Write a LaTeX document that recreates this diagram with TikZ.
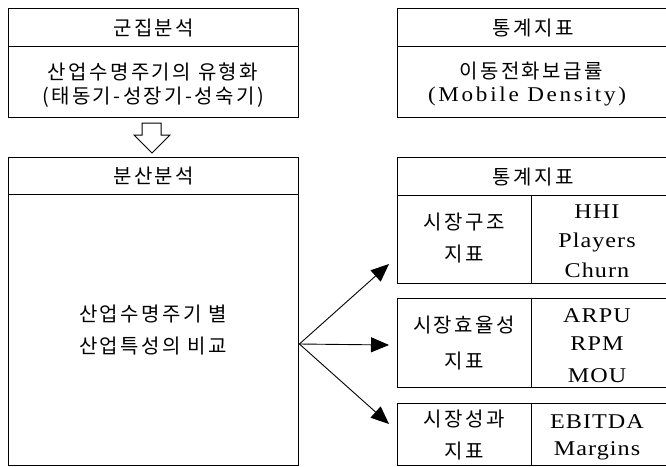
\documentclass[tikz,border=0pt]{standalone}
\usepackage{fontspec}
\setmainfont{Liberation Serif}[FakeStretch=1.15, LetterSpace=5]
\newfontfamily\wide{Liberation Serif}[FakeStretch=1.1, LetterSpace=13]
\newfontfamily\kr{Noto Sans CJK KR}[LetterSpace=12]
\usetikzlibrary{arrows.meta}
\begin{document}
\begin{tikzpicture}[x=1pt,y=-1pt,
  box/.style={draw, line width=1.4pt, inner sep=0pt, anchor=north west},
  kt/.style={font=\kr\fontsize{20}{24}\selectfont, inner sep=0pt},
  lt/.style={font=\fontsize{21}{25}\selectfont, inner sep=0pt},
  conn/.style={-{Triangle[length=18pt,width=15pt]}, line width=0.9pt}]
\useasboundingbox (0,0) rectangle (666,466);

% top left
\node[box, minimum width=290pt, minimum height=38pt, kt] (h1) at (8,8) {군집분석};
\node[box, minimum width=290pt, minimum height=71pt] (b1) at (8,46) {};
\node[kt] (b1a) at (153,72) {산업수명주기의 유형화};
\node[kt] (b1b) at (153,97) {(태동기-성장기-성숙기)};

% top right
\node[box, minimum width=271pt, minimum height=38pt, kt] (h2) at (397,8) {통계지표};
\node[box, minimum width=271pt, minimum height=71pt] (b2) at (397,46) {};
\node[kt] (b2a) at (531,71) {이동전화보급률};
\node[lt, font=\wide\fontsize{21}{25}\selectfont] (b2b) at (527,96) {(Mobile Density)};

% block arrow
\draw[line width=1pt, fill=white] (142,123) -- (161,123) -- (161,135) -- (170,135)
  -- (152,153) -- (134,135) -- (142,135) -- cycle;

% lower left
\node[box, minimum width=290pt, minimum height=37pt, kt] (h3) at (8,157) {분산분석};
\node[box, minimum width=290pt, minimum height=271pt] (b3) at (8,194) {};
\node[kt] (b3a) at (153,314) {산업수명주기 별};
\node[kt] (b3b) at (153,346) {산업특성의 비교};

% lower right header
\node[box, minimum width=271pt, minimum height=38pt, kt] (h4) at (397,157) {통계지표};

% market structure
\node[box, minimum width=134pt, minimum height=88pt] (s1) at (397,195) {};
\node[box, minimum width=137pt, minimum height=88pt] (s2) at (531,195) {};
\node[kt] (s1a) at (464,222) {시장구조};
\node[kt] (s1b) at (464,254) {지표};
\node[lt, anchor=base] (s2a) at (597,218) {HHI};
\node[lt, anchor=base] (s2b) at (597,247) {Players};
\node[lt, anchor=base] (s2c) at (597,277) {Churn};

% market efficiency
\node[box, minimum width=134pt, minimum height=89pt] (e1) at (397,298) {};
\node[box, minimum width=137pt, minimum height=89pt] (e2) at (531,298) {};
\node[kt] (e1a) at (464,325) {시장효율성};
\node[kt] (e1b) at (464,361) {지표};
\node[lt, anchor=base] (e2a) at (597,322) {ARPU};
\node[lt, anchor=base] (e2b) at (597,350) {RPM};
\node[lt, anchor=base] (e2c) at (597,382) {MOU};

% market performance
\node[box, minimum width=134pt, minimum height=62pt] (p1) at (397,403) {};
\node[box, minimum width=137pt, minimum height=62pt] (p2) at (531,403) {};
\node[kt] (p1a) at (464,419) {시장성과};
\node[kt] (p1b) at (464,451) {지표};
\node[lt, anchor=base] (p2a) at (597,428) {EBITDA};
\node[lt, anchor=base] (p2b) at (597,455) {Margins};

% connectors
\coordinate (o) at (b3.east |- 0,344);
\coordinate (t1) at (389,264);
\coordinate (t2) at (389,345);
\coordinate (t3) at (389,424);
\draw[conn] (o) -- (t1);
\draw[conn] (o) -- (t2);
\draw[conn] (o) -- (t3);
\end{tikzpicture}
\end{document}
